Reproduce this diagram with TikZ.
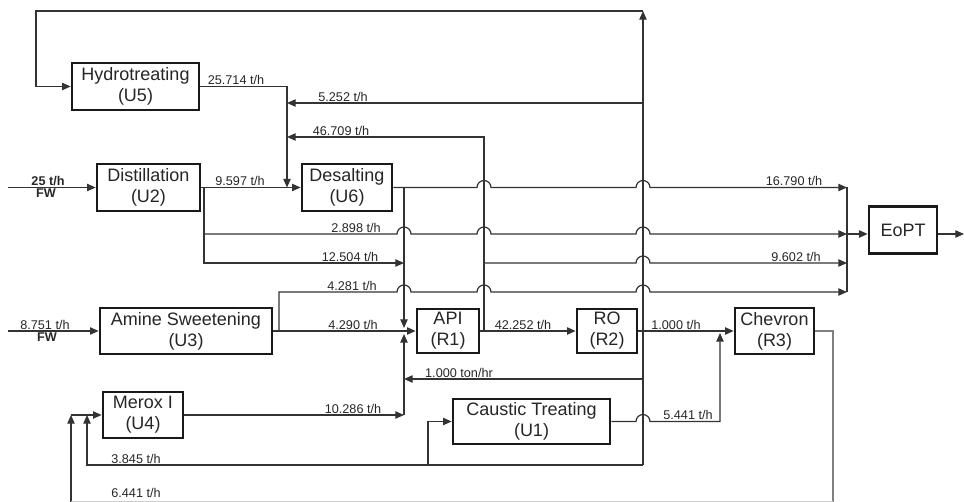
\documentclass[tikz,border=0pt]{standalone}
\usepackage{fontspec}
\setmainfont{Liberation Sans}
\usetikzlibrary{arrows.meta}
\begin{document}
\begin{tikzpicture}[x=0.75pt,y=0.75pt,
  unit/.style={draw=black!90, line width=2pt, fill=white, align=center, inner sep=0pt,
    font=\fontsize{13.5}{15.75}\selectfont, text=black!85},
  flow/.style={draw=black!80, line width=0.9pt},
  arr/.style={flow, -{Triangle[length=6.5pt,width=5.5pt]}},
  lbl/.style={font=\fontsize{9.5}{11}\selectfont, text=black!85, inner sep=1pt, anchor=south},
  lblb/.style={lbl, font=\fontsize{9.5}{11}\selectfont\bfseries},
]
\path[use as bounding box] (0,0) rectangle (964,-502);

% units
\node[unit, minimum width=95.25pt, minimum height=35.25pt] (u5) at (135.5,-86.5) {Hydrotreating\\(U5)};
\node[unit, minimum width=77.25pt, minimum height=35.25pt] (u2) at (148.5,-187.5) {Distillation\\(U2)};
\node[unit, minimum width=67.5pt, minimum height=35.25pt] (u6) at (347,-187.5) {Desalting\\(U6)};
\node[unit, minimum width=129pt, minimum height=34.5pt] (u3) at (186,-331) {Amine Sweetening\\(U3)};
\node[unit, minimum width=46.5pt, minimum height=33pt] (r1) at (448,-331) {API\\(R1)};
\node[unit, minimum width=45pt, minimum height=33pt] (r2) at (607,-331) {RO\\(R2)};
\node[unit, minimum width=59.25pt, minimum height=34.5pt] (r3) at (774.5,-331) {Chevron\\(R3)};
\node[unit, minimum width=60pt, minimum height=34.5pt] (u4) at (143,-415) {Merox I\\(U4)};
\node[unit, minimum width=117.75pt, minimum height=33.75pt] (u1) at (531.5,-421.5) {Caustic Treating\\(U1)};
\node[unit, minimum width=51pt, minimum height=35.25pt] (eopt) at (903,-230) {EoPT};

% junction coordinates
\coordinate (top) at (643,-11);
\coordinate (tl) at (36,-11);
\coordinate (vb) at (643,-465);
\coordinate (j287) at (287,-187.5);
\coordinate (ce) at (847,-234);

% top recycle loop
\draw[arr] (vb) -- (top);
\draw[arr] (top) -- (tl) |- (u5.west);
% hydrotreating to desalting
\draw[arr] (u5.east) -- (287,-86.5) -- (j287);
\draw[arr] (643,-103) -- (287,-103);
\draw[arr] (484,-331) -- (484,-137) -- (287,-137);

% distillation
\draw[arr] (8,-187.5) -- (u2.west);
\draw[arr] (u2.east) -- (u6.west);
\draw[arr] (204,-187.5) -- (204,-263) -- (404,-263);
\draw[arr] (204,-234) -- (397,-234) arc(180:0:5.25pt) -- (477,-234) arc(180:0:5.25pt)
  -- (636,-234) arc(180:0:5.25pt) -- (ce);
% desalting output
\draw[arr] (u6.east) -- (477,-187.5) arc(180:0:5.25pt) -- (636,-187.5) arc(180:0:5.25pt) -- (847,-187.5);
\draw[arr] (404,-187.5) -- (404,-328);
% 9.602
\draw[arr] (484,-263) -- (636,-263) arc(180:0:5.25pt) -- (847,-263);
% amine
\draw[arr] (8,-331) -- (u3.west);
\draw[arr] (u3.east) -- (r1.west);
\draw[arr] (279,-331) -- (279,-292) -- (397,-292) arc(180:0:5.25pt) -- (477,-292) arc(180:0:5.25pt)
  -- (636,-292) arc(180:0:5.25pt) -- (847,-292);
% EoPT collector
\draw[flow] (847,-187.5) -- (847,-292);
\draw[arr] (ce) -- (ce -| eopt.west);
\draw[arr] (ce -| eopt.east) -- (964,-234);
% API, RO, Chevron
\draw[arr] (r1.east) -- (r2.west);
\draw[arr] (r2.east) -- (r3.west);
\draw[arr] (643,-379) -- (404,-379);
% merox
\draw[arr] (u4.east) -- (404,-415);
\draw[arr] (404,-415) -- (404,-334);
\draw[arr] (vb) -- (87,-465) -- (87,-415);
\draw[arr] (428,-465) |- (u1.west);
\draw[arr] (71,-415) -- (u4.west);
\draw[arr] (71,-502) -- (71,-415);
% caustic
\draw[arr] (u1.east) -- (636,-421.5) arc(180:0:5.25pt) -- (720,-421.5) -- (720,-333);
% chevron output
\draw[flow, draw=black!50] (r3.east) -- (833,-331) -- (833,-502);
\draw[flow, draw=black!20, line width=0.5pt] (833,-501.5) -- (71,-501.5);

% labels
\node[lbl] (l1) at (236,-86.5) {25.714 t/h};
\node[lbl] (l2) at (343,-103) {5.252 t/h};
\node[lbl] (l3) at (341,-137) {46.709 t/h};
\node[lblb] (l4) at (48,-187.5) {25 t/h};
\node[lblb, anchor=north] (l5) at (46,-187.5) {FW};
\node[lbl] (l6) at (240,-187.5) {9.597 t/h};
\node[lbl] (l7) at (794,-187.5) {16.790 t/h};
\node[lbl] (l8) at (356,-234) {2.898 t/h};
\node[lbl] (l9) at (350,-263) {12.504 t/h};
\node[lbl] (l10) at (796,-263) {9.602 t/h};
\node[lbl] (l11) at (352,-292) {4.281 t/h};
\node[lbl] (l12) at (45,-331) {8.751 t/h};
\node[lblb, anchor=north] (l13) at (47,-331) {FW};
\node[lbl] (l14) at (353,-331) {4.290 t/h};
\node[lbl] (l15) at (523,-331) {42.252 t/h};
\node[lbl] (l16) at (676,-331) {1.000 t/h};
\node[lbl] (l17) at (459,-379) {1.000 ton/hr};
\node[lbl] (l18) at (353,-415) {10.286 t/h};
\node[lbl] (l19) at (688,-421.5) {5.441 t/h};
\node[lbl] (l20) at (136,-465) {3.845 t/h};
\node[lbl] (l21) at (136,-499) {6.441 t/h};
\end{tikzpicture}
\end{document}
